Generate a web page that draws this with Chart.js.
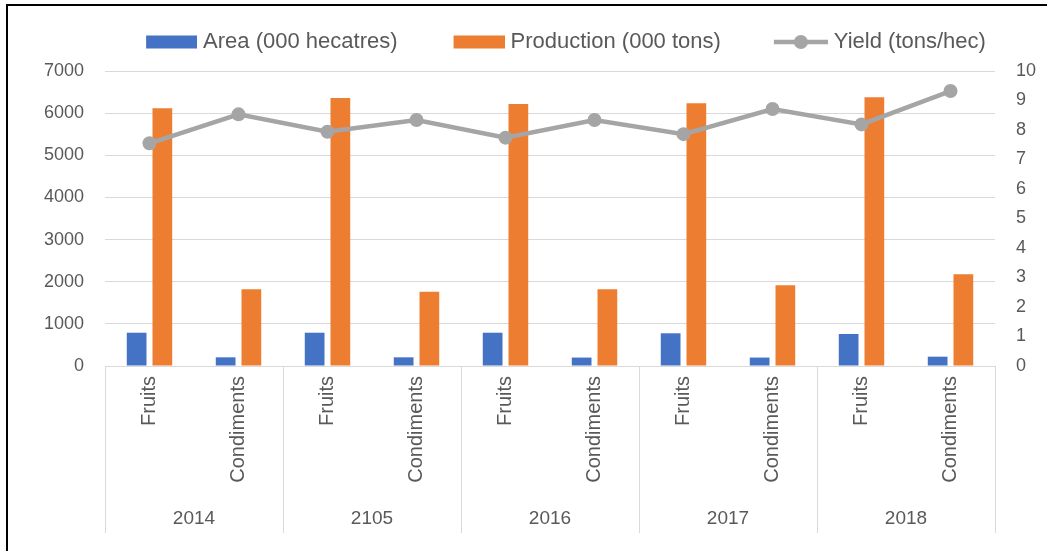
<!DOCTYPE html>
<html>
<head>
<meta charset="utf-8">
<script src="https://cdn.jsdelivr.net/npm/chart.js@4"></script>
<style>
  html, body { margin: 0; padding: 0; background: #fff; }
  #wrap { position: relative; width: 1047px; height: 551px; overflow: hidden; }
  #wrap canvas { position: absolute; left: 0; top: 0; }
  #frame { position: absolute; left: 6px; top: 4px; width: 1100px; height: 600px; border: 2px solid #000; pointer-events: none; }
</style>
</head>
<body>
<div id="wrap">
  <canvas id="chart" width="1047" height="551"></canvas>
  <div id="frame"></div>
</div>
<script>
const years = ['2014', '2105', '2016', '2017', '2018'];
const crops = ['Fruits', 'Condiments'];
// one value per year/crop pair, in the order of the category axis
const area = [790, 206, 790, 206, 790, 200, 776, 200, 760, 221];
const production = [6115, 1820, 6360, 1763, 6217, 1820, 6234, 1915, 6376, 2176];
const yieldPerHec = [7.55, 8.53, 7.94, 8.34, 7.74, 8.34, 7.86, 8.71, 8.19, 9.32];

const categories = years.flatMap(() => crops);

const BLUE = '#4472C4';
const ORANGE = '#ED7D31';
const GREY = '#A5A5A5';
const GRID = '#D9D9D9';
const TEXT = '#595959';

Chart.defaults.font.family = "'Liberation Sans', Arial, sans-serif";
Chart.defaults.color = TEXT;

// legend swatches: transparent lead on the left, swatch on the right half
function legendIcon(draw) {
  const c = document.createElement('canvas');
  c.width = 102;
  c.height = 16;
  draw(c.getContext('2d'));
  return c;
}
const icons = [
  legendIcon(g => { g.fillStyle = BLUE; g.fillRect(51, 1.5, 51, 13); }),
  legendIcon(g => { g.fillStyle = ORANGE; g.fillRect(51, 1.5, 51, 13); }),
  legendIcon(g => {
    g.strokeStyle = GREY;
    g.lineWidth = 4.5;
    g.beginPath();
    g.moveTo(48, 8);
    g.lineTo(102, 8);
    g.stroke();
    g.fillStyle = GREY;
    g.beginPath();
    g.arc(75, 8, 7, 0, Math.PI * 2);
    g.fill();
  })
];

// second tier of the category axis: year groups with separators
const yearTier = {
  id: 'yearTier',
  afterDraw(chart) {
    const { ctx, chartArea } = chart;
    const x = chart.scales.x;
    const top = chartArea.bottom;
    const bottom = 533;
    ctx.save();
    ctx.strokeStyle = GRID;
    ctx.lineWidth = 1;
    for (let g = 0; g <= years.length; g++) {
      const px = Math.round(x.getPixelForValue(g * crops.length - 0.5)) + 0.5;
      ctx.beginPath();
      ctx.moveTo(px, top);
      ctx.lineTo(px, bottom);
      ctx.stroke();
    }
    ctx.fillStyle = TEXT;
    ctx.font = "19px 'Liberation Sans', Arial, sans-serif";
    ctx.textAlign = 'center';
    ctx.textBaseline = 'middle';
    years.forEach((yr, g) => {
      const cx = x.getPixelForValue(g * crops.length + (crops.length - 1) / 2);
      ctx.fillText(yr, cx, 519);
    });
    ctx.restore();
  }
};

new Chart(document.getElementById('chart'), {
  data: {
    labels: categories,
    datasets: [
      {
        type: 'bar',
        label: 'Area (000 hecatres)',
        data: area,
        backgroundColor: BLUE,
        yAxisID: 'y',
        order: 2,
        categoryPercentage: 0.578,
        barPercentage: 0.767
      },
      {
        type: 'bar',
        label: 'Production (000 tons)',
        data: production,
        backgroundColor: ORANGE,
        yAxisID: 'y',
        order: 2,
        categoryPercentage: 0.578,
        barPercentage: 0.767
      },
      {
        type: 'line',
        label: 'Yield (tons/hec)',
        data: yieldPerHec,
        borderColor: GREY,
        backgroundColor: GREY,
        borderWidth: 4.5,
        pointRadius: 7,
        pointBorderWidth: 0,
        pointBackgroundColor: GREY,
        tension: 0,
        yAxisID: 'y1',
        order: 1
      }
    ]
  },
  options: {
    responsive: false,
    animation: false,
    devicePixelRatio: 1,
    layout: { padding: { left: 39, right: 0, top: 21, bottom: 0 } },
    plugins: {
      tooltip: { enabled: false },
      // empty spacer between the legend and the plot
      subtitle: {
        display: true,
        text: '',
        position: 'top',
        weight: 500,
        font: { size: 1, lineHeight: 1 },
        padding: { top: 0, bottom: 7 }
      },
      legend: {
        position: 'top',
        align: 'center',
        labels: {
          usePointStyle: true,
          pointStyleWidth: 92,
          padding: 10,
          color: TEXT,
          font: { size: 22 },
          generateLabels(chart) {
            return chart.data.datasets.map((ds, i) => ({
              text: ds.label,
              pointStyle: icons[i],
              fillStyle: GREY,
              strokeStyle: 'transparent',
              lineWidth: 0,
              hidden: !chart.isDatasetVisible(i),
              datasetIndex: i,
              fontColor: TEXT
            }));
          }
        }
      }
    },
    scales: {
      x: {
        type: 'category',
        offset: true,
        grid: { display: false, drawTicks: false },
        border: { display: true, color: GRID },
        ticks: {
          autoSkip: false,
          minRotation: 90,
          maxRotation: 90,
          padding: 10,
          color: TEXT,
          font: { size: 20 }
        },
        afterFit(scale) { scale.height = 185; }
      },
      y: {
        position: 'left',
        min: 0,
        max: 7000,
        ticks: {
          stepSize: 1000,
          padding: 21,
          color: TEXT,
          font: { size: 18 },
          callback: v => String(v)
        },
        grid: { color: GRID, lineWidth: 1, drawTicks: false },
        border: { display: false },
        afterFit(scale) { scale.width = 66; }
      },
      y1: {
        position: 'right',
        min: 0,
        max: 10,
        ticks: { stepSize: 1, padding: 21, color: TEXT, font: { size: 18 } },
        grid: { display: false, drawTicks: false },
        border: { display: false },
        afterFit(scale) { scale.width = 52; }
      }
    }
  },
  plugins: [yearTier]
});
</script>
</body>
</html>
